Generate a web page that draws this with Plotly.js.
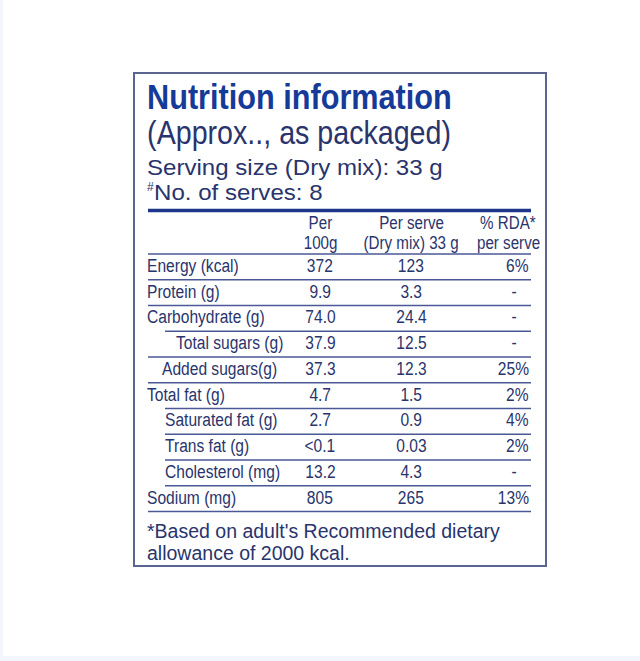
<!DOCTYPE html>
<html>
<head>
<meta charset="utf-8">
<script src="https://cdn.plot.ly/plotly-3.0.1.min.js"></script>
<style>
  html, body { margin: 0; padding: 0; background: #ffffff; }
  #chart { width: 640px; height: 661px; }
</style>
</head>
<body>
<div id="chart"></div>
<script>
// ---------- data ----------
var titleText = 'Nutrition information';
var subtitleText = '(Approx.., as packaged)';
var servingSize = 'Serving size (Dry mix): 33 g';
var servesMark = '#';
var servesText = 'No. of serves: 8';
var colHeaderTop = ['Per', 'Per serve', '% RDA*'];
var colHeaderBottom = ['100g', '(Dry mix) 33 g', 'per serve'];
var nutrients = ['Energy (kcal)', 'Protein (g)', 'Carbohydrate (g)', 'Total sugars (g)', 'Added sugars(g)',
                 'Total fat (g)', 'Saturated fat (g)', 'Trans fat (g)', 'Cholesterol (mg)', 'Sodium (mg)'];
var levels = [0, 0, 0, 1, 1, 0, 1, 1, 1, 0];
var per100g = ['372', '9.9', '74.0', '37.9', '37.3', '4.7', '2.7', '<0.1', '13.2', '805'];
var perServe = ['123', '3.3', '24.4', '12.5', '12.3', '1.5', '0.9', '0.03', '4.3', '265'];
var rdaPerServe = ['6%', '-', '-', '-', '25%', '2%', '4%', '2%', '-', '13%'];
var footnoteLines = ["*Based on adult's Recommended dietary", 'allowance of 2000 kcal.'];

// ---------- styling ----------
var FONT = '"Liberation Sans", Arial, Helvetica, sans-serif';
var TITLE_BLUE = '#163a98';
var TEXT = '#29346c';
var RULE = '#4a5996';
var BORDER = '#5a6592';
var NARROW = 0.82;   // horizontal squeeze to imitate a condensed face

var leftX = 148, rightX = 531;
var col1X = 320, col2X = 411, col3R = 530, col3Dash = 514, col3HeadX = 508;
var headerLine = 254, rowH = 25.75;
var labelX = [146, 146, 146, 175, 161, 146, 164, 164, 164, 146];
var ruleStart = [148, 148, 165, 148, 148, 165, 165, 165, 165, 148];

function esc(s) { return s.replace(/&/g, '&amp;').replace(/</g, '&lt;').replace(/>/g, '&gt;'); }

var ann = [];
var annScale = [];
function addText(txt, x, y, anchor, size, color, bold, sx) {
  ann.push({
    text: bold ? '<b>' + txt + '</b>' : txt,
    x: x, y: y, xref: 'x', yref: 'y',
    xanchor: anchor, yanchor: 'middle', showarrow: false,
    borderpad: 0,
    font: { family: FONT, size: size, color: color }
  });
  annScale.push({ s: sx, anchor: anchor });
}

// title block
addText(esc(titleText), 146, 96, 'left', 35, TITLE_BLUE, true, 0.876);
addText(esc(subtitleText), 146, 132, 'left', 33, TEXT, false, 0.868);
addText(esc(servingSize), 146, 167, 'left', 22.5, TEXT, false, 1.07);
addText(esc(servesMark), 146, 187, 'left', 12, TEXT, false, 1);
addText(esc(servesText), 153, 192, 'left', 22.5, TEXT, false, 1.07);

// column headers
var headX = [col1X, col2X, col3HeadX];
for (var c = 0; c < 3; c++) {
  addText(esc(colHeaderTop[c]), headX[c], 222, 'center', 18.5, TEXT, false, NARROW);
  addText(esc(colHeaderBottom[c]), headX[c], 242, 'center', 18.5, TEXT, false, NARROW);
}

// rows
var shapes = [];
for (var i = 0; i < nutrients.length; i++) {
  var yc = headerLine + rowH * i + rowH / 2 - 1.5;
  addText(esc(nutrients[i]), labelX[i], yc, 'left', 19, TEXT, false, NARROW);
  addText(esc(per100g[i]), col1X, yc, 'center', 19, TEXT, false, NARROW);
  addText(esc(perServe[i]), col2X, yc, 'center', 19, TEXT, false, NARROW);
  if (rdaPerServe[i] === '-') {
    addText('-', col3Dash, yc, 'center', 19, TEXT, false, NARROW);
  } else {
    addText(esc(rdaPerServe[i]), col3R, yc, 'right', 19, TEXT, false, NARROW);
  }
  var yl = headerLine + rowH * (i + 1);
  shapes.push({ type: 'line', xref: 'x', yref: 'y', x0: ruleStart[i], x1: rightX, y0: yl, y1: yl,
                line: { color: RULE, width: 1.5 } });
}

// footnote
addText(esc(footnoteLines[0]), 146, 531, 'left', 19.5, TEXT, false, 1);
addText(esc(footnoteLines[1]), 146, 552.5, 'left', 19.5, TEXT, false, 1);

// faint outer edges
shapes.push({ type: 'rect', xref: 'x', yref: 'y', x0: 0, x1: 640, y0: 656, y1: 661, line: { width: 0 }, fillcolor: '#f4f6fd', layer: 'below' });
shapes.push({ type: 'rect', xref: 'x', yref: 'y', x0: 0, x1: 3, y0: 0, y1: 661, line: { width: 0 }, fillcolor: '#f4f6fd', layer: 'below' });
// outer box
shapes.push({ type: 'rect', xref: 'x', yref: 'y', x0: 134, x1: 546, y0: 73, y1: 566, line: { color: BORDER, width: 2 }, fillcolor: 'rgba(0,0,0,0)' });
// thick rule
shapes.push({ type: 'line', xref: 'x', yref: 'y', x0: leftX, x1: rightX, y0: 210.5, y1: 210.5, line: { color: '#1d3689', width: 3.5 } });
// header bottom rule
shapes.push({ type: 'line', xref: 'x', yref: 'y', x0: leftX, x1: rightX, y0: headerLine, y1: headerLine, line: { color: RULE, width: 1.5 } });

var layout = {
  width: 640, height: 661,
  margin: { l: 0, r: 0, t: 0, b: 0, pad: 0 },
  paper_bgcolor: '#ffffff', plot_bgcolor: '#ffffff',
  xaxis: { range: [0, 640], visible: false, fixedrange: true },
  yaxis: { range: [661, 0], visible: false, fixedrange: true },
  showlegend: false,
  annotations: ann,
  shapes: shapes
};

function squeeze(gd) {
  var groups = gd.querySelectorAll('g.annotation');
  groups.forEach(function (g) {
    var idx = +g.getAttribute('data-index');
    var info = annScale[idx];
    if (!info || info.s === 1) return;
    var t = g.querySelector('text.annotation-text');
    if (!t) return;
    var bb = t.getBBox();
    var ax = info.anchor === 'left' ? bb.x : (info.anchor === 'right' ? bb.x + bb.width : bb.x + bb.width / 2);
    var prev = t.getAttribute('transform') || '';
    t.setAttribute('transform', prev + ' translate(' + ax + ',0) scale(' + info.s + ',1) translate(' + (-ax) + ',0)');
  });
}

Plotly.newPlot('chart', [], layout, { staticPlot: true, displayModeBar: false })
  .then(function (gd) { squeeze(gd); });
</script>
</body>
</html>
